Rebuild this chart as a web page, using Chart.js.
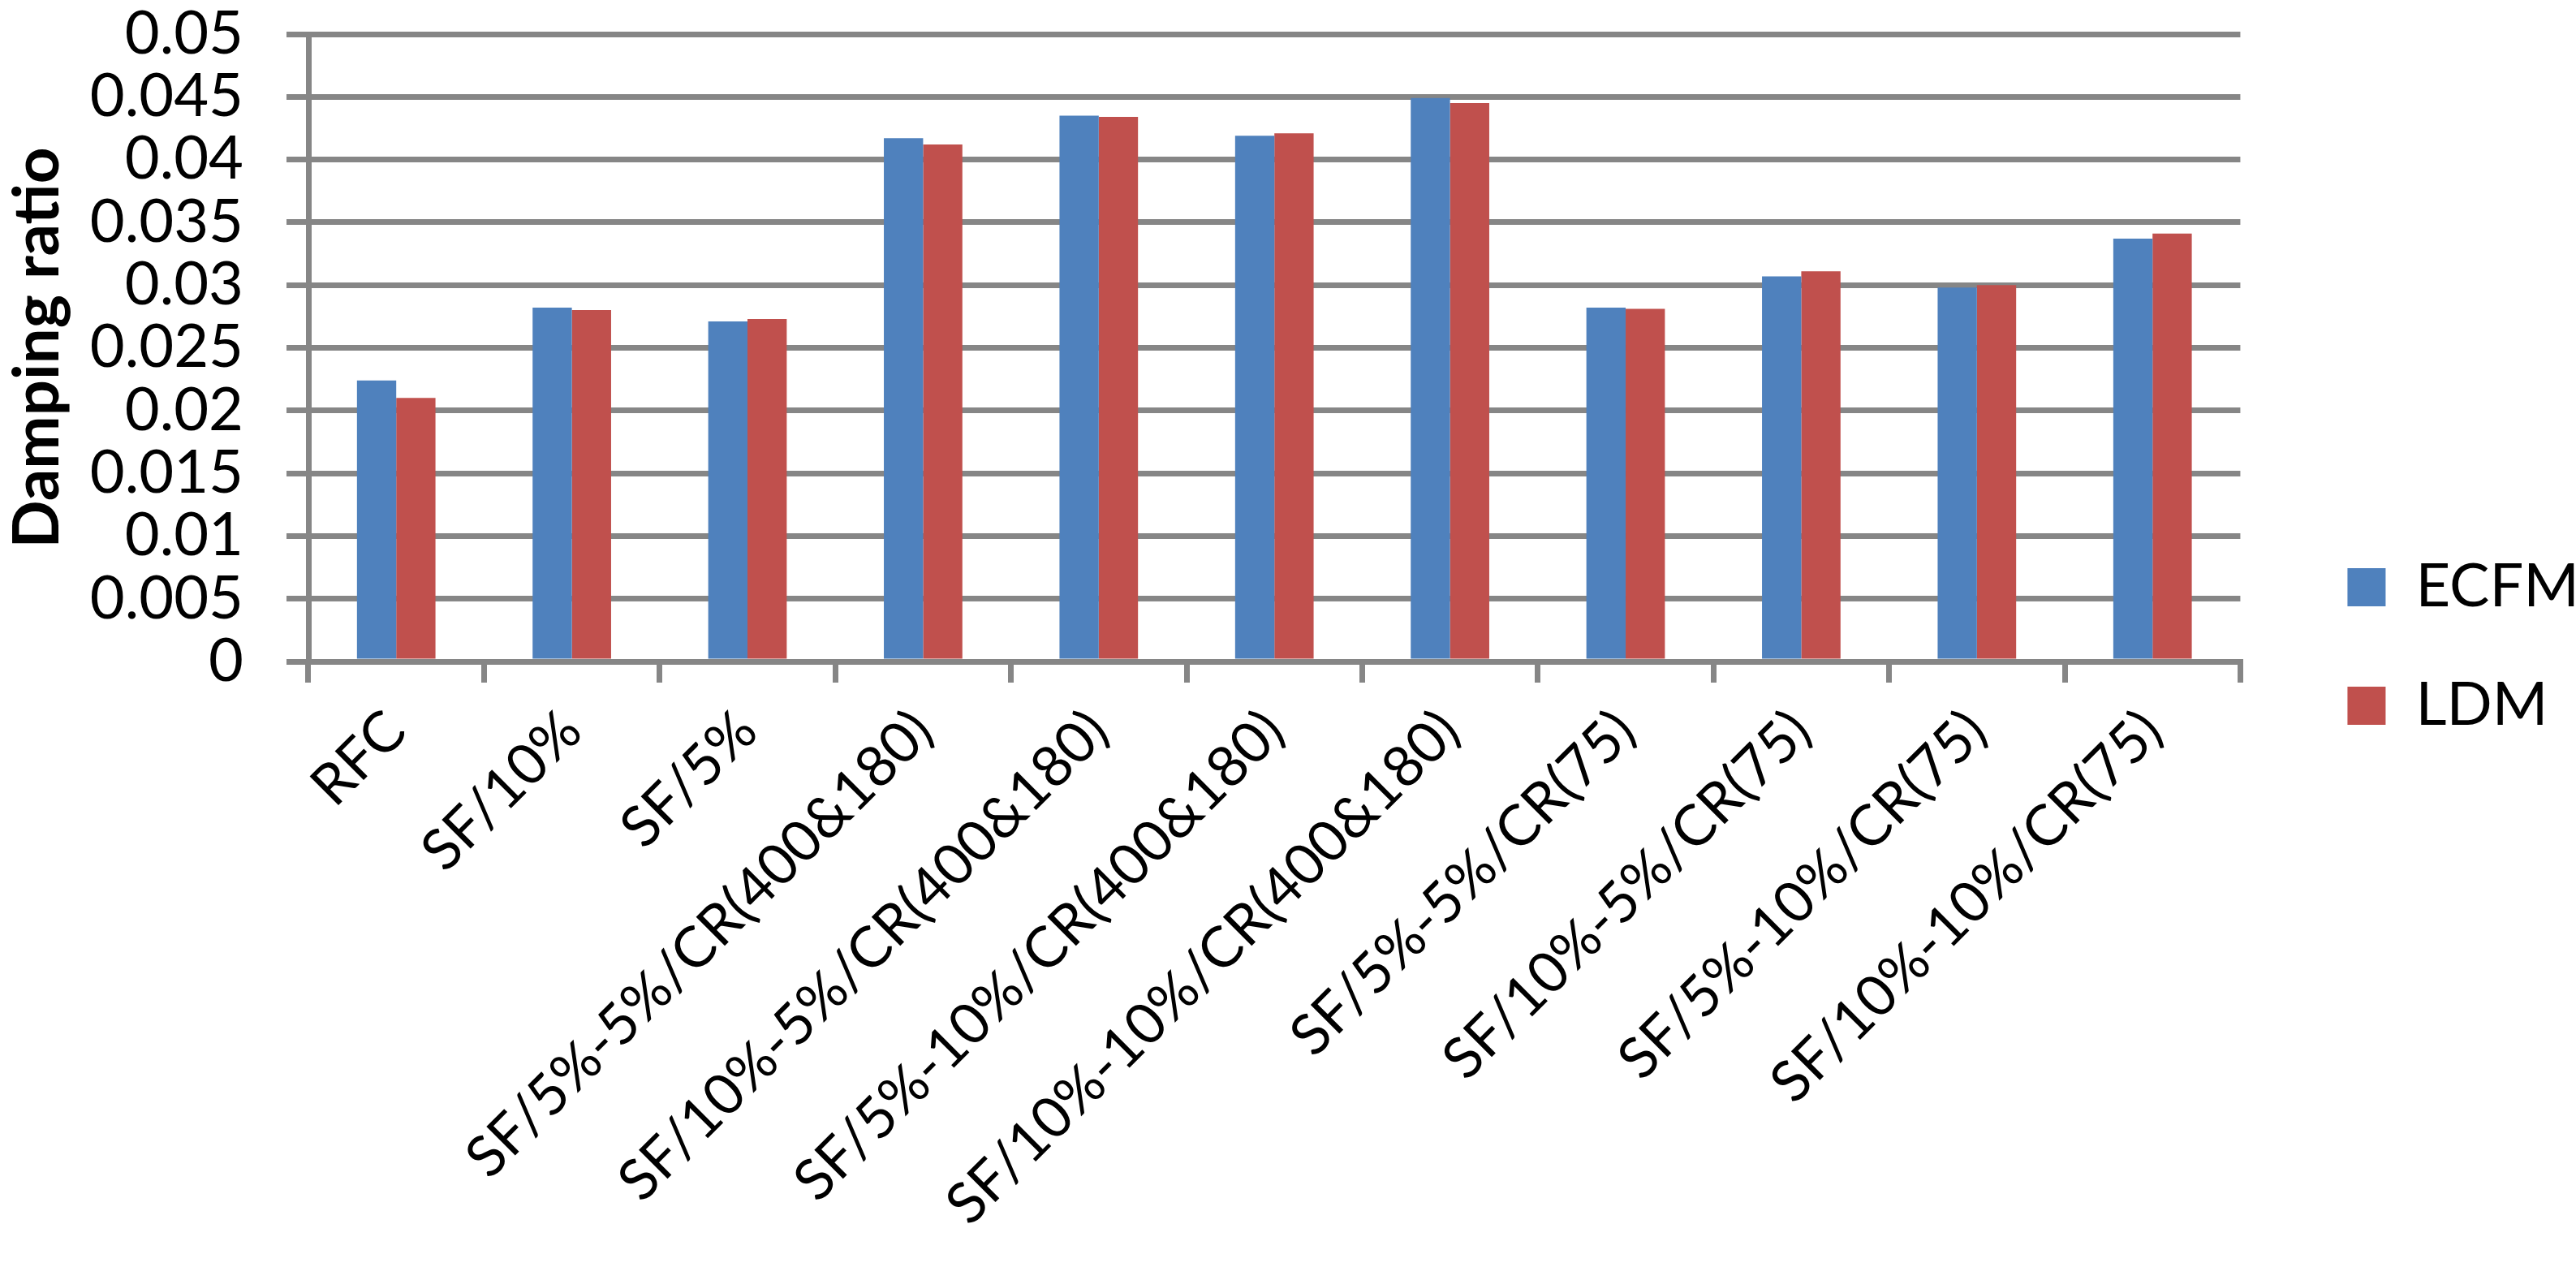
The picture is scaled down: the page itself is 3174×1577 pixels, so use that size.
<!DOCTYPE html>
<html>
<head>
<meta charset="utf-8">
<script src="https://cdn.jsdelivr.net/npm/chart.js@4/dist/chart.umd.min.js"></script>
<style>
  html, body { margin: 0; padding: 0; background: #fff; }
  #wrap { width: 3174px; height: 1577px; }
</style>
</head>
<body>
<div id="wrap"><canvas id="chart"></canvas></div>
<script>
// categories on the x axis
var cases = ["RFC", "SF/10%", "SF/5%",
  "SF/5%-5%/CR(400&180)", "SF/10%-5%/CR(400&180)",
  "SF/5%-10%/CR(400&180)", "SF/10%-10%/CR(400&180)",
  "SF/5%-5%/CR(75)", "SF/10%-5%/CR(75)",
  "SF/5%-10%/CR(75)", "SF/10%-10%/CR(75)"];

// damping ratio
var ecfm = [0.0224, 0.0282, 0.0271, 0.0417, 0.0435, 0.0419, 0.0449, 0.0282, 0.0307, 0.0298, 0.0337];
var ldm  = [0.0210, 0.0280, 0.0273, 0.0412, 0.0434, 0.0421, 0.0445, 0.0281, 0.0311, 0.0300, 0.0341];

var yMin = 0, yMax = 0.05, yStep = 0.005;

var gridGray = "#868686";
var fontFam = "Lato, 'Open Sans', sans-serif";

// push the legend a bit right/down, like the excel one
var legendNudge = {
  id: 'legendNudge',
  afterLayout: function (chart) {
    var l = chart.legend;
    l.left += 60; l.right += 60;
    l.top += 8; l.bottom += 8;
  }
};

new Chart(document.getElementById("chart"), {
  type: 'bar',
  data: {
    labels: cases,
    datasets: [
      { label: "ECFM", data: ecfm, backgroundColor: "#4F81BD" },
      { label: "LDM", data: ldm, backgroundColor: "#C0504D" }
    ]
  },
  options: {
    responsive: true,
    maintainAspectRatio: false,
    animation: false,
    layout: { padding: { top: 0, right: 46, left: 0, bottom: 0 } },
    datasets: { bar: { categoryPercentage: 0.447, barPercentage: 1.0 } },
    scales: {
      x: {
        grid: { drawOnChartArea: false, drawTicks: true, tickLength: 26, color: gridGray, lineWidth: 7, offset: true },
        border: { display: true, color: gridGray, width: 7 },
        ticks: { color: "#000", font: { family: fontFam, size: 70, lineHeight: 0.6 }, minRotation: 45, maxRotation: 45, padding: 33, autoSkip: false },
        afterFit: function (s) { s.height = 762; }
      },
      y: {
        min: yMin, max: yMax,
        grid: { color: gridGray, lineWidth: 7, tickLength: 27 },
        border: { display: true, color: gridGray, width: 7 },
        ticks: {
          stepSize: yStep, color: "#000", padding: 53, autoSkip: false,
          font: { family: fontFam, size: 74 },
          callback: function (v) { return String(+v.toFixed(3)); }
        },
        title: { display: true, text: "Damping ratio", color: "#000", font: { family: fontFam, size: 78, weight: 'bold' }, padding: 0 },
        afterFit: function (s) { s.width = 380; s.paddingTop = 42; }
      }
    },
    plugins: {
      legend: {
        position: 'right',
        labels: { color: "#000", font: { family: fontFam, size: 74 }, boxWidth: 47, boxHeight: 47, padding: 72 }
      },
      tooltip: { enabled: false }
    }
  },
  plugins: [legendNudge]
});
</script>
</body>
</html>
